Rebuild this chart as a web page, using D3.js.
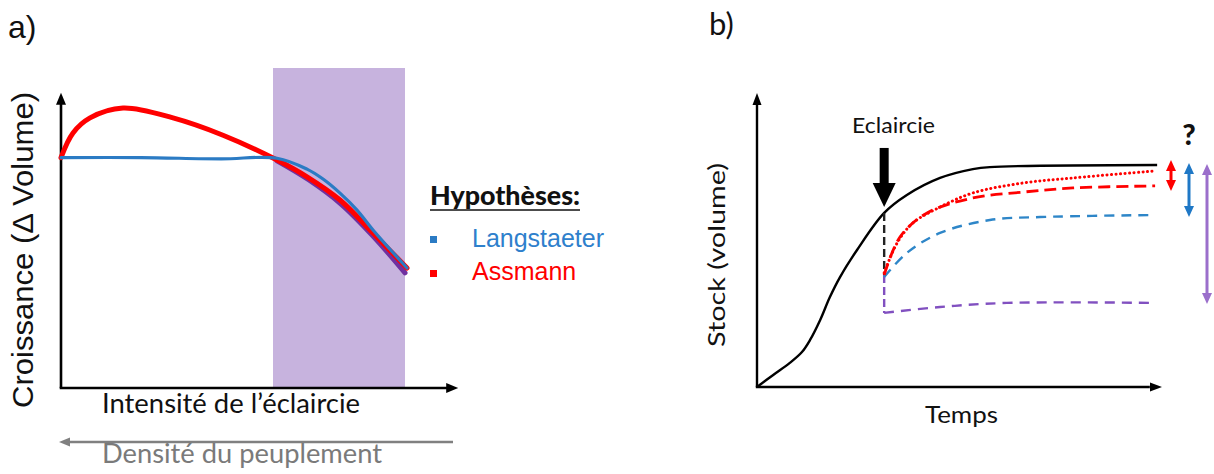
<!DOCTYPE html>
<html><head><meta charset="utf-8">
<script src="https://cdn.jsdelivr.net/npm/d3@7"></script>
<style>
html,body{margin:0;padding:0;background:#fff;}
svg{display:block;}
</style></head>
<body>
<svg id="chart" width="1214" height="474"></svg>
<script>
// ---------- Panel a: growth response to thinning intensity ----------
const thinningZone = [53, 86];                       // shaded range of intensity
const langstaeterX = [0, 20, 40, 54, 61.5, 65.5, 69.75, 74, 78, 86.5];
const langstaeterY = [72, 72, 71.6, 71.8, 68.4, 65.3, 60.9, 55.6, 49.4, 37.5];
const assmannX = [0, 3, 7.25, 15.5, 28, 40.5, 54, 61.5, 69.75, 78, 86.5];
const assmannY = [72, 79.7, 84.4, 87.5, 84.4, 79, 71.25, 66, 58.75, 48.4, 37.5];
const observedX = [54, 62, 70, 78, 86];
const observedY = [71, 65, 57.5, 47.5, 36];
const hypotheses = ["Langstaeter", "Assmann"];

// ---------- Panel b: standing stock over time ----------
const thinningTime = 31.4;
const stockX = [0, 4, 8.1, 11.1, 13.1, 15.6, 18, 20.5, 24.7, 31.4, 37, 45.2, 53.3, 57.5, 98.8];
const stockY = [0, 4.1, 8.2, 11.9, 16, 22.8, 30.6, 37.4, 46.6, 59.2, 65.3, 71.1, 74.1, 74.8, 75.5];
const afterCut = 38.1;                               // stock right after thinning
const floorCut = 25.2;                               // stock after the heaviest cut
const redDottedX = [31.4, 34.6, 38.5, 45.2, 53.3, 65.7, 78, 98.3];
const redDottedY = [38.8, 49, 55.8, 61.2, 66, 69.4, 71.1, 73.5];
const redDashedX = [31.4, 35.3, 42, 53.3, 65.7, 78, 98.3];
const redDashedY = [38.1, 51, 59.2, 64.3, 66.3, 67.7, 68.4];
const blueDashedX = [31.4, 37, 45.2, 57.5, 69.9, 98.3];
const blueDashedY = [37.4, 45.6, 52.4, 56.8, 57.8, 58.5];
const purpleDashedX = [31.4, 45.2, 61.7, 98.3];
const purpleDashedY = [25.2, 27.2, 28.6, 28.6];

const C = {
  black: "#000", grey: "#808080", shade: "#c7b3de",
  red: "#ff0000", blue: "#2b7bc4", purple: "#7030a0",
  blueText: "#2e80cc", bDash: "#2e86c8", pDash: "#8150c0", pArrow: "#9b6fcb"
};
const calibri = "Lato, 'Open Sans', sans-serif";
const arial = "'Liberation Sans', Arial, sans-serif";

const svg = d3.select("#chart");
const zip = (xs, ys) => xs.map((x, i) => [x, ys[i]]);

// filled triangular arrow head, tip at (x,y), pointing along angle (radians)
function head(g, x, y, ang, len, wid, color) {
  const bx = x - Math.cos(ang) * len, by = y - Math.sin(ang) * len;
  const px = -Math.sin(ang) * wid / 2, py = Math.cos(ang) * wid / 2;
  g.append("path")
    .attr("d", `M${x},${y}L${bx + px},${by + py}L${bx - px},${by - py}Z`)
    .attr("fill", color);
}

// ================= Panel a =================
const xA = d3.scaleLinear([0, 100], [61, 461]);
const yA = d3.scaleLinear([0, 100], [388, 68]);
const ga = svg.append("g");

ga.append("rect")
  .attr("x", xA(thinningZone[0])).attr("y", yA(100))
  .attr("width", xA(thinningZone[1]) - xA(thinningZone[0]))
  .attr("height", yA(0) - yA(100))
  .attr("fill", C.shade);

// axes with arrow heads
ga.append("line").attr("x1", xA(0)).attr("y1", yA(0)).attr("x2", xA(0)).attr("y2", yA(91))
  .attr("stroke", C.black).attr("stroke-width", 2.6);
head(ga, xA(0), yA(92.3), -Math.PI / 2, 12, 10, C.black);
ga.append("line").attr("x1", xA(0) - 1.3).attr("y1", yA(0)).attr("x2", xA(96.5)).attr("y2", yA(0))
  .attr("stroke", C.black).attr("stroke-width", 2.6);
head(ga, xA(99.3), yA(0), 0, 12, 10, C.black);

const lineA = d3.line().x(d => xA(d[0])).y(d => yA(d[1])).curve(d3.curveCatmullRom.alpha(0.5));
ga.append("path").attr("d", lineA(zip(observedX, observedY)))
  .attr("fill", "none").attr("stroke", C.purple).attr("stroke-width", 5).attr("stroke-linecap", "round");
ga.append("path").attr("d", lineA(zip(assmannX, assmannY)))
  .attr("fill", "none").attr("stroke", C.red).attr("stroke-width", 5).attr("stroke-linecap", "round");
ga.append("path").attr("d", lineA(zip(langstaeterX, langstaeterY)))
  .attr("fill", "none").attr("stroke", C.blue).attr("stroke-width", 3.2).attr("stroke-linecap", "round");

// labels
svg.append("text").attr("x", 8).attr("y", 38).attr("font-family", arial).attr("font-size", 32)
  .attr("fill", "#111").text("a)");
svg.append("text").attr("transform", "translate(33,250) rotate(-90)")
  .attr("text-anchor", "middle").attr("font-family", arial).attr("font-size", 29)
  .attr("textLength", 316).attr("lengthAdjust", "spacingAndGlyphs")
  .attr("fill", "#111").text("Croissance  (\u0394 Volume)");
svg.append("text").attr("x", 102).attr("y", 413).attr("font-family", calibri).attr("font-size", 26)
  .attr("textLength", 258).attr("lengthAdjust", "spacingAndGlyphs")
  .attr("fill", "#111").text("Intensité de l\u2019éclaircie");

// density arrow (pointing to lower intensities)
ga.append("line").attr("x1", 453).attr("y1", 442).attr("x2", xA(0) + 8).attr("y2", 442)
  .attr("stroke", C.grey).attr("stroke-width", 2.4);
head(ga, xA(0) - 2, 442, Math.PI, 11, 9, C.grey);
svg.append("text").attr("x", 102).attr("y", 463).attr("font-family", calibri).attr("font-size", 26)
  .attr("textLength", 280).attr("lengthAdjust", "spacingAndGlyphs")
  .attr("fill", "#7a7a7a").text("Densité du peuplement");

// legend
const lg = svg.append("g");
lg.append("text").attr("x", 430).attr("y", 205).attr("font-family", calibri).attr("font-size", 26)
  .attr("font-weight", 900).attr("textLength", 150).attr("lengthAdjust", "spacingAndGlyphs")
  .attr("fill", "#111").text("Hypothèses:");
lg.append("line").attr("x1", 430).attr("x2", 580).attr("y1", 210).attr("y2", 210)
  .attr("stroke", "#111").attr("stroke-width", 1.6);
const legColors = [C.blueText, C.red];
const legY = d3.scalePoint(hypotheses, [247, 280]);
hypotheses.forEach((h, i) => {
  lg.append("rect").attr("x", 430).attr("y", legY(h) - 11 - (i ? -1 : 0)).attr("width", 7).attr("height", 7)
    .attr("fill", i ? C.red : C.blue);
  lg.append("text").attr("x", 472).attr("y", legY(h)).attr("font-family", arial).attr("font-size", 25)
    .attr("fill", legColors[i]).text(h);
});

// ================= Panel b =================
const xB = d3.scaleLinear([0, 100], [757, 1162]);
const yB = d3.scaleLinear([0, 100], [387, 93]);
const gb = svg.append("g");

gb.append("line").attr("x1", xB(0)).attr("y1", yB(0)).attr("x2", xB(0)).attr("y2", yB(96))
  .attr("stroke", C.black).attr("stroke-width", 2.4);
head(gb, xB(0), yB(100), -Math.PI / 2, 12, 9, C.black);
gb.append("line").attr("x1", xB(0) - 1.2).attr("y1", yB(0)).attr("x2", xB(97)).attr("y2", yB(0))
  .attr("stroke", C.black).attr("stroke-width", 2.4);
head(gb, xB(100), yB(0), 0, 12, 9, C.black);

const lineB = d3.line().x(d => xB(d[0])).y(d => yB(d[1])).curve(d3.curveCatmullRom.alpha(0.5));
const straight = d3.line().x(d => xB(d[0])).y(d => yB(d[1]));

gb.append("path").attr("d", lineB(zip(stockX, stockY)))
  .attr("fill", "none").attr("stroke", C.black).attr("stroke-width", 2.4);

// drop at thinning
gb.append("path").attr("d", straight([[thinningTime, stockY[stockX.indexOf(thinningTime)]], [thinningTime, afterCut]]))
  .attr("stroke", "#222").attr("stroke-width", 2.4).attr("stroke-dasharray", "8,4");
gb.append("path").attr("d", straight([[thinningTime, afterCut], [thinningTime, floorCut]]))
  .attr("stroke", C.pDash).attr("stroke-width", 2.4).attr("stroke-dasharray", "8,4");

gb.append("path").attr("d", lineB(zip(purpleDashedX, purpleDashedY)))
  .attr("fill", "none").attr("stroke", C.pDash).attr("stroke-width", 2.4).attr("stroke-dasharray", "10,7");
gb.append("path").attr("d", lineB(zip(blueDashedX, blueDashedY)))
  .attr("fill", "none").attr("stroke", C.bDash).attr("stroke-width", 2.4).attr("stroke-dasharray", "10,7");
gb.append("path").attr("d", lineB(zip(redDashedX, redDashedY)))
  .attr("fill", "none").attr("stroke", C.red).attr("stroke-width", 2.8).attr("stroke-dasharray", "12,6");
gb.append("path").attr("d", lineB(zip(redDottedX, redDottedY)))
  .attr("fill", "none").attr("stroke", C.red).attr("stroke-width", 3)
  .attr("stroke-dasharray", "0.1,4.4").attr("stroke-linecap", "round");

// thinning marker
const tx = xB(thinningTime), ty = yB(stockY[stockX.indexOf(thinningTime)]);
gb.append("rect").attr("x", tx - 4.5).attr("y", ty - 65).attr("width", 9).attr("height", 38).attr("fill", C.black);
head(gb, tx, ty - 6, Math.PI / 2, 24, 23, C.black);
svg.append("text").attr("x", 852).attr("y", 133).attr("font-family", calibri).attr("font-size", 22)
  .attr("textLength", 83).attr("lengthAdjust", "spacingAndGlyphs").attr("fill", "#111").text("Eclaircie");

// range arrows between the untouched stock and each scenario's end value
const plateau = stockY[stockY.length - 1];
const ranges = [
  { end: redDashedY[redDashedY.length - 1], color: C.red, dx: 9, pad: 5 },
  { end: blueDashedY[blueDashedY.length - 1], color: "#1f78c6", dx: 27, pad: 2 },
  { end: purpleDashedY[purpleDashedY.length - 1], color: C.pArrow, dx: 45, pad: 1 }
];
ranges.forEach(r => {
  const x = xB(100) + r.dx, y1 = yB(plateau) - r.pad, y2 = yB(r.end) + r.pad;
  gb.append("line").attr("x1", x).attr("x2", x).attr("y1", y1 + 8).attr("y2", y2 - 8)
    .attr("stroke", r.color).attr("stroke-width", 3);
  head(gb, x, y1, -Math.PI / 2, 11, 10, r.color);
  head(gb, x, y2, Math.PI / 2, 11, 10, r.color);
});
svg.append("text").attr("x", xB(100) + 27).attr("y", 145).attr("text-anchor", "middle")
  .attr("font-family", calibri).attr("font-size", 29).attr("font-weight", 900).attr("fill", "#111").text("?");

svg.append("text").attr("x", 709).attr("y", 35).attr("font-family", calibri).attr("font-size", 31)
  .attr("fill", "#111").text("b)");
svg.append("text").attr("transform", "translate(725,255) rotate(-90)").attr("text-anchor", "middle")
  .attr("font-family", calibri).attr("font-size", 24)
  .attr("textLength", 184).attr("lengthAdjust", "spacingAndGlyphs").attr("fill", "#111").text("Stock (volume)");
svg.append("text").attr("x", 925).attr("y", 423).attr("font-family", calibri).attr("font-size", 24)
  .attr("textLength", 73).attr("lengthAdjust", "spacingAndGlyphs").attr("fill", "#111").text("Temps");
</script>
</body></html>
